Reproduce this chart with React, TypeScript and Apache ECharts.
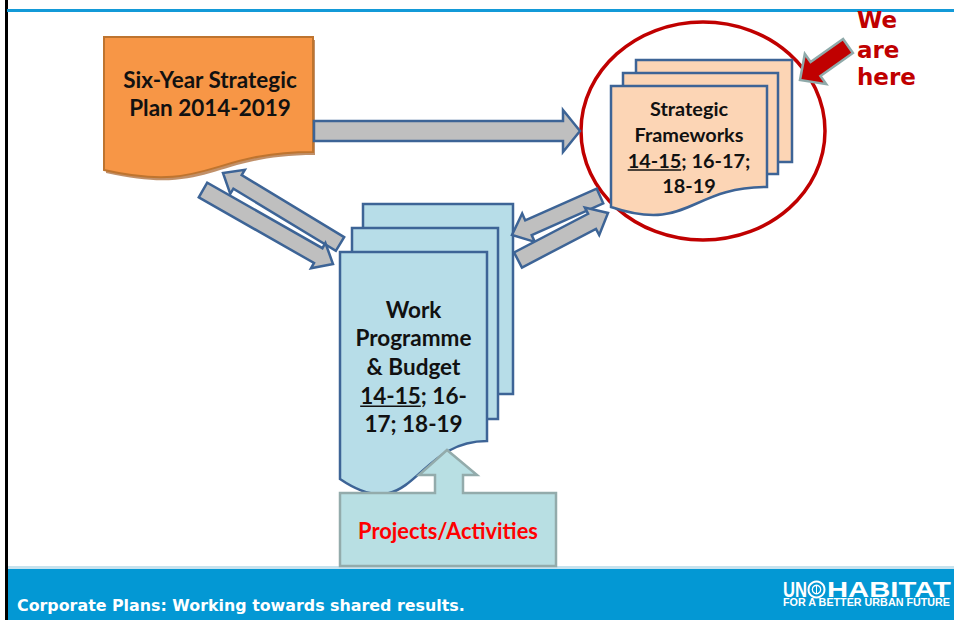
import React, { useEffect, useRef } from "react";
import * as echarts from "echarts";

// ---- texts (the "data" of this diagram) ----
const planLines = ["Six-Year Strategic", "Plan 2014-2019"];
const frameworkLines = ["Strategic", "Frameworks", "14-15; 16-17;", "18-19"];
const programmeLines = ["Work", "Programme", "& Budget", "14-15; 16-", "17; 18-19"];
const underlinedPart = "14-15";
const projectsLabel = "Projects/Activities";
const hereLines = ["We", "are", "here"];
const footerText = "Corporate Plans: Working towards shared results.";
const logoLeft = "UN";
const logoRight = "HABITAT";
const logoTagline = "FOR A BETTER URBAN FUTURE";

// ---- colours ----
const ORANGE = "#F79646";
const ORANGE_STROKE = "#BE742F";
const ORANGE_SHADOW = "#A7612A";
const PEACH = "#FCD5B5";
const PAGE_BLUE = "#B7DDE8";
const EDGE_BLUE = "#3D6496";
const ARROW_GREY = "#BFBFBF";
const RED = "#C00000";
const PROJ_FILL = "#B8DFE3";
const PROJ_STROKE = "#93ABAB";
const FOOTER_BLUE = "#0398D4";
const TOPLINE_BLUE = "#139AD8";
const CAL = "Lato";
const VERD = "DejaVu Sans";
const LOGO = "Liberation Sans";

type P = [number, number];

function arrowPoints(tail: P, tip: P, sw: number, hw: number, hl: number): P[] {
  const dx = tip[0] - tail[0];
  const dy = tip[1] - tail[1];
  const L = Math.hypot(dx, dy);
  const ux = dx / L, uy = dy / L;
  const nx = -uy, ny = ux;
  const nk: P = [tip[0] - ux * hl, tip[1] - uy * hl];
  const off = (b: P, s: number): P => [b[0] + nx * s, b[1] + ny * s];
  return [off(tail, sw / 2), off(nk, sw / 2), off(nk, hw / 2), tip, off(nk, -hw / 2), off(nk, -sw / 2), off(tail, -sw / 2)];
}

function docPath(x0: number, x1: number, top: number, yR: number, yL: number, dx = 0, dy = 0): string {
  const yC = yR + 2.314 * (yL - yR);
  const mx = (x0 + x1) / 2;
  const f = (a: number, b: number) => `${a + dx} ${b + dy}`;
  return `M${f(x0, top)}L${f(x1, top)}L${f(x1, yR)}C${f(mx, yR)} ${f(mx, yC)} ${f(x0, yL)}Z`;
}

export default function App() {
  const ref = useRef<HTMLDivElement>(null);
  useEffect(() => {
    document.body.style.margin = "0";
    document.body.style.overflow = "hidden";
    const canvas = document.createElement("canvas");
    const ctx = canvas.getContext("2d")!;
    const tw = (t: string, size: number, fam: string) => {
      ctx.font = `bold ${size}px "${fam}"`;
      return ctx.measureText(t).width;
    };
    const fit = (t: string, fam: string, target: number) => (100 * target) / tw(t, 100, fam);

    const planSize = fit(planLines[0], CAL, 174);
    const fwSize = fit(frameworkLines[1], CAL, 109);
    const wpSize = fit(programmeLines[1], CAL, 116);
    const projSize = fit(projectsLabel, CAL, 180);
    const footSize = fit(footerText, VERD, 448);

    echarts.graphic.registerShape("docOrangeShadow", echarts.graphic.extendPath(docPath(104, 313, 37, 152, 170, 2, 3), {}) as any);
    echarts.graphic.registerShape("docOrange", echarts.graphic.extendPath(docPath(104, 313, 37, 152, 170), {}) as any);
    echarts.graphic.registerShape("docPeach", echarts.graphic.extendPath(docPath(611, 767, 86, 187, 207), {}) as any);
    echarts.graphic.registerShape("docBlue", echarts.graphic.extendPath(docPath(340, 487, 252, 441, 479), {}) as any);

    const els: any[] = [];
    const add = (e: any) => { els.push({ ...e, z: els.length + 1 }); };
    const rect = (x: number, y: number, w: number, h: number, fill: string, stroke?: string, lw = 0) =>
      add({ type: "rect", shape: { x, y, width: w, height: h }, style: { fill, stroke: stroke || null, lineWidth: lw } });
    const poly = (points: P[], fill: string, stroke: string, lw: number) =>
      add({ type: "polygon", shape: { points }, style: { fill, stroke, lineWidth: lw, lineJoin: "miter" } });
    const text = (t: string, x: number, y: number, size: number, fam: string, fill: string, align = "center", extra: any = {}) =>
      add({
        type: "text", x, y, ...extra,
        style: { text: t, fill, fontSize: size, fontWeight: "bold", fontFamily: fam, textAlign: align, textVerticalAlign: "middle", align, verticalAlign: "middle" },
      });
    const underline = (line: string, cx: number, y: number, size: number) => {
      const W = tw(line, size, CAL);
      const w = tw(underlinedPart, size, CAL);
      const xs = cx - W / 2;
      add({ type: "line", shape: { x1: xs, y1: y, x2: xs + w, y2: y }, style: { stroke: "#111", lineWidth: 1.6 } });
    };

    // frame
    rect(0, 0, 954, 620, "#ffffff");
    rect(5, 0, 3, 620, "#000000");
    rect(7, 9, 947, 3, TOPLINE_BLUE);
    rect(8, 566, 946, 3, "#C6E2EE");
    rect(8, 569, 946, 51, FOOTER_BLUE);

    // red circle
    add({ type: "ellipse", shape: { cx: 703, cy: 131, rx: 122, ry: 109 }, style: { fill: "none", stroke: RED, lineWidth: 3.5 } });

    // peach stack
    rect(636, 60, 156, 102, PEACH, EDGE_BLUE, 2.5);
    rect(623, 73, 155, 101, PEACH, EDGE_BLUE, 2.5);
    add({ type: "docPeach", x: 0, y: 0, style: { fill: PEACH, stroke: EDGE_BLUE, lineWidth: 2.5 } });

    // blue stack
    rect(363, 204, 150, 190, PAGE_BLUE, EDGE_BLUE, 2.5);
    rect(352, 228, 146, 191, PAGE_BLUE, EDGE_BLUE, 2.5);
    add({ type: "docBlue", x: 0, y: 0, style: { fill: PAGE_BLUE, stroke: EDGE_BLUE, lineWidth: 2.5 } });

    // orange doc
    add({ type: "docOrangeShadow", x: 0, y: 0, style: { fill: ORANGE_SHADOW, opacity: 0.7 } });
    add({ type: "docOrange", x: 0, y: 0, style: { fill: ORANGE, stroke: ORANGE_STROKE, lineWidth: 2 } });

    // grey arrows
    poly(arrowPoints([314, 131], [580, 131], 20, 42, 17), ARROW_GREY, EDGE_BLUE, 2.5);
    poly(arrowPoints([340, 244], [223, 173], 16, 28, 17), ARROW_GREY, EDGE_BLUE, 2.5);
    poly(arrowPoints([203, 190], [333, 264], 17, 29, 17), ARROW_GREY, EDGE_BLUE, 2.5);
    poly(arrowPoints([600, 196], [512, 235], 16, 31, 18), ARROW_GREY, EDGE_BLUE, 2.5);
    poly(arrowPoints([518, 260], [608, 213], 17, 31, 18), ARROW_GREY, EDGE_BLUE, 2.5);

    // projects up-arrow callout
    poly(
      [[340, 493], [435, 493], [435, 475], [419, 475], [447, 450], [477, 475], [463, 475], [463, 493], [556, 493], [556, 566], [340, 566]],
      PROJ_FILL, PROJ_STROKE, 2.5
    );

    // red "we are here" arrow
    poly(arrowPoints([848, 46], [800, 80], 17, 37, 19), RED, "#8FAAAA", 2.5);

    // texts
    const planY = [79, 107];
    planLines.forEach((t, i) => text(t, 210, planY[i], planSize, CAL, "#111111"));
    const fwY = [108, 134, 160, 185];
    frameworkLines.forEach((t, i) => text(t, 689, fwY[i], fwSize, CAL, "#111111"));
    underline(frameworkLines[2], 689, fwY[2] + 0.5 * fwSize, fwSize);
    const wpY = [309, 337, 366, 395, 423];
    programmeLines.forEach((t, i) => text(t, 413.5, wpY[i], wpSize, CAL, "#111111"));
    underline(programmeLines[3], 413.5, wpY[3] + 0.5 * wpSize, wpSize);
    text(projectsLabel, 448, 530, projSize, CAL, "#FF0000");

    const hereY = [20, 49.5, 77];
    hereLines.forEach((t, i) => text(t, 857, hereY[i], 23, VERD, RED, "left"));

    text(footerText, 17, 605, footSize, VERD, "#ffffff", "left");

    // logo
    const unNat = tw(logoLeft, 22, LOGO);
    text(logoLeft, 783, 589.5, 22, LOGO, "#ffffff", "left", { scaleX: 24 / unNat });
    add({ type: "circle", shape: { cx: 816.5, cy: 589.5, r: 8 }, style: { fill: "none", stroke: "#ffffff", lineWidth: 2 } });
    add({ type: "circle", shape: { cx: 816.5, cy: 589.5, r: 4.2 }, style: { fill: "none", stroke: "#ffffff", lineWidth: 1.3 } });
    add({ type: "line", shape: { x1: 816.5, y1: 585.3, x2: 816.5, y2: 593.7 }, style: { stroke: "#ffffff", lineWidth: 1 } });
    const habNat = tw(logoRight, 22, LOGO);
    text(logoRight, 827, 589.5, 22, LOGO, "#ffffff", "left", { scaleX: 124 / habNat });
    const tagNat = tw(logoTagline, 10, LOGO);
    text(logoTagline, 783, 602.5, 10, LOGO, "#ffffff", "left", { scaleX: 168 / tagNat });

    const chart = echarts.init(ref.current!, undefined, { renderer: "svg", width: 954, height: 620 });
    chart.setOption({ animation: false, graphic: { elements: els } });
    return () => chart.dispose();
  }, []);
  return <div ref={ref} style={{ width: 954, height: 620 }} />;
}
